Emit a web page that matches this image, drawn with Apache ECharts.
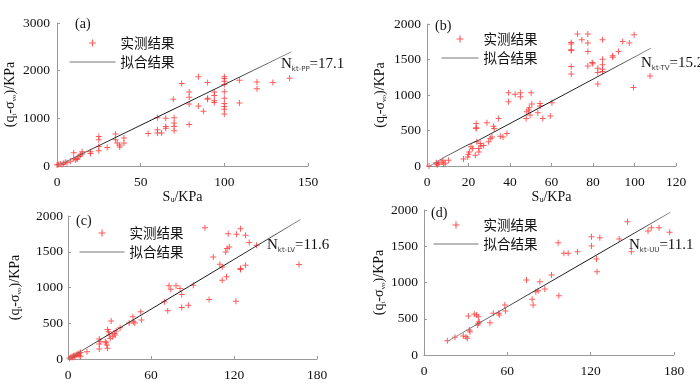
<!DOCTYPE html>
<html>
<head>
<meta charset="utf-8">
<script src="https://cdn.jsdelivr.net/npm/echarts@6/dist/echarts.min.js"></script>
<style>html,body{margin:0;padding:0;background:#fff}#c{width:700px;height:390px}</style>
</head>
<body>
<div id="c"></div>
<script>
// ---- data ----
const aPts = [[0,20],[1,30],[2,40],[3,30],[4,60],[5,80],[6,70],[8,100],[10,150],[10,280],[11,130],[12,160],[12,140],[13,200],[14,230],[15,250],[15,300],
  [20,300],[20,260],[25,620],[25,550],[25,410],[25,320],[30,390],[35,670],[35,550],[36,480],[37.5,440],[37.5,400],[40,590],[40,480],
  [54.5,680],[60,1010],[60,760],[60,690],[62.5,690],[65,1000],[65,830],[65,790],[69.5,1400],[70,1010],[70,900],[70,830],[70,740],
  [74.5,1730],[79,1550],[79,1440],[79,1300],[79,870],[84.5,1870],[84.5,1260],[87.5,1150],[90,1750],[90,1420],[90,1400],
  [94,1550],[94,1480],[94,1370],[94,1330],[100,1870],[100,1835],[100,1780],[100,1710],[100,1560],[100,1420],[100,1310],[100,1250],[100,1190],[100,1090],
  [109,1800],[109,1320],[119.5,1760],[119.5,1620],[129,1750],[139,1840]];
const aFit = [[0,0],[140,2394]];

const bPts = [[1,0],[4.5,33],[4.5,47],[5,19],[5.6,42],[7.2,57],[7.7,80],[8,24],[8.8,42],[10.4,80],
  [17.6,99],[19.6,127],[20,165],[20.4,198],[21.2,270],[22,245],[23.3,150],[23.7,600],[23.7,540],[23.7,528],[24,340],[25,245],[25,198],
  [25.7,316],[26,283],[27.3,288],[28.9,610],[29.7,340],[30.5,387],[31.3,410],[32,560],[32.4,528],[34.5,670],[35.3,420],[36.6,410],[38.5,458],
  [39.3,1033],[39.3,905],[42.5,1010],[45,1033],[45,976],[47.8,670],[48.1,764],[49,788],[49.3,820],[49.7,717],[50.2,1033],[50.5,873],
  [53.4,750],[54.5,844],[54.5,882],[55.8,670],[59.4,703],[60.2,890],
  [69.5,1740],[69.5,1717],[69.5,1637],[69.5,1627],[69.5,1400],[69.5,1297],[72.5,1858],[74.6,1778],[77.5,1858],[77.5,1731],[77.5,1613],[77.5,1410],
  [79.6,1458],[79.9,1440],[82.3,1377],[82.3,1316],[82.3,1156],[84.6,1778],[84.6,1505],[84.6,1425],[84.6,1363],[84.6,1330],
  [89.5,1552],[89.5,1533],[92.3,1613],[94.3,1755],[97.5,1731],[99.8,1849],[99.5,1104],[107.5,1269]];
const bFit = [[1.3,0],[8,118],[19.3,292],[24.9,363],[108,1660]];

const cPts = [[1,10],[2,25],[3,35],[4,45],[5,50],[6,60],[7,70],[8,80],[9,90],[8,50],[3,20],[5,30],[9,40],[13.7,102],
  [22.6,279],[22.6,209],[22.6,140],[23.3,242],[27,242],[27.6,228],[28.1,195],[28.6,149],[28.6,414],[29.3,381],[29.8,335],[30.5,288],[31.2,530],
  [32.4,312],[33.4,358],[34.1,335],[34.8,391],[37.7,437],[44.2,502],[46.9,591],[47.3,521],[48.3,502],[52.6,660],[53.1,544],
  [69.7,800],[72.1,674],[73,1023],[74.3,977],[78.1,1023],[81,986],[82.2,902],[82.2,721],[87,753],[90.6,1033],[99,1837],[102,833],[105,1428],
  [109.8,1326],[111.5,1288],[111.5,1102],[114,1498],[114.6,1149],[115,1544],[115.8,1753],[116.6,1567],[121.4,809],[121.8,1744],
  [124.7,1823],[124.7,1265],[124.7,1251],[128.3,1730],[128.3,1312],[131,1628],[136.3,1591],[167,1321]];
const cFit = [[0,0],[168,1950]];

const dPts = [[16.8,198],[22.3,244],[28.3,262],[30.2,253],[31.2,230],[31.9,538],[32.6,345],[33.1,322],[36.2,566],[37.9,552],[39.1,529],
  [38.6,414],[39.1,437],[39.8,460],[47.5,446],[49.9,575],[53.9,575],[54.2,552],[58.2,690],[58.7,607],[73.8,1034],[77.9,768],[78.6,690],
  [80.5,874],[82.2,887],[83.4,1011],[87,910],[91.8,1103],[96.6,1549],[97.1,818],[100.7,1402],[103.8,1402],[110.5,1425],
  [120.6,1632],[120.6,1503],[124.2,1324],[124.6,1149],[126.6,1618],[140.5,1600],[146.5,1839],[149.3,1425],[161.3,1710],[163.7,1756],[169.2,1756],[176.9,1692]];
const dFit = [[16.5,183],[177.5,1970]];

const panelLabels = ['(a)','(b)','(c)','(d)'];
const nLabels = [['kt-PP','17.1'],['kt-TV','15.2'],['kt-LV','11.6'],['kt-UU','11.1']];
const xTicks = [{min:0,max:150,interval:50},{min:0,max:120,interval:20},{min:0,max:180,interval:60},{min:0,max:180,interval:60}];
const yTicks = [{min:0,max:3000,interval:1000},{min:0,max:2000,interval:500},{min:0,max:2000,interval:500},{min:0,max:2000,interval:500}];
const legendNames = ['实测结果','拟合结果'];

// ---- layout ----
const serif = '"Liberation Serif","DejaVu Serif",serif';
const cjk = '"Noto Sans CJK SC","Noto Sans CJK JP",sans-serif';
const grids = [
  {left:57, top:23, width:251, height:143},
  {left:427, top:24, width:249, height:142},
  {left:68, top:216, width:249, height:143},
  {left:424, top:210, width:250, height:145}
];
const yGap = [39,39,45,37];
const yLabMargin = [7,6,5,6];
const xNameShow = [true,true,false,false];
const xNameGap = [19,21,20,20];
const legPos = [
  {left:69, top:36, itemWidth:46},
  {left:441, top:32, itemWidth:37},
  {left:79, top:226, itemWidth:45},
  {left:433, top:218, itemWidth:45}
];
const gradStops = [[0.18,0.74],[0.2,0.78],[0.15,0.83],[0.4,0.83]];
const pLabPos = [[75,17],[435,19],[76,214],[431,206]];
const nPos = [[281,57],[641,56],[267,238],[629,238]];

const cross = 'path://M2.5,0h1v2.5h2.5v1h-2.5v2.5h-1v-2.5h-2.5v-1h2.5z';
const ptColor = '#ff3535';
const axisColor = '#9a9a9a';
const chart = echarts.init(document.getElementById('c'));

const xAxis = [], yAxis = [], series = [], legend = [], graphic = [];
const pts = [aPts,bPts,cPts,dPts], fits = [aFit,bFit,cFit,dFit];
for (let i = 0; i < 4; i++) {
  xAxis.push({
    gridIndex:i, type:'value', min:xTicks[i].min, max:xTicks[i].max, interval:xTicks[i].interval,
    name: xNameShow[i] ? '{a|S}{s|u}{a|/KPa}' : '', nameLocation:'middle', nameGap:xNameGap[i],
    nameTextStyle:{rich:{a:{fontFamily:serif,fontSize:14,color:'#111',lineHeight:15},s:{fontFamily:serif,fontSize:8,color:'#111',lineHeight:8,verticalAlign:'bottom'}}},
    splitLine:{show:false},
    axisLine:{onZero:false,lineStyle:{color:axisColor,width:1}},
    axisTick:{inside:true,length:3,lineStyle:{color:axisColor}},
    axisLabel:{fontFamily:serif,fontSize:13.5,color:'#111',margin:9,formatter:v=>String(v)}
  });
  yAxis.push({
    gridIndex:i, type:'value', min:yTicks[i].min, max:yTicks[i].max, interval:yTicks[i].interval,
    name:'{a|(q}{s|t}{a|-σ}{s|vo}{a|)/KPa}', nameLocation:'middle', nameGap:yGap[i], nameRotate:90,
    nameTextStyle:{rich:{a:{fontFamily:serif,fontSize:14,color:'#111',lineHeight:15},s:{fontFamily:serif,fontSize:7,color:'#111',lineHeight:7,verticalAlign:'bottom'}}},
    splitLine:{show:false},
    axisLine:{show:true,lineStyle:{color:axisColor,width:1}},
    axisTick:{show:true,inside:true,length:3,lineStyle:{color:axisColor}},
    axisLabel:{fontFamily:serif,fontSize:13.5,color:'#111',margin:yLabMargin[i],formatter:v=>String(v)}
  });
  series.push({
    type:'scatter', name:legendNames[0], xAxisIndex:i, yAxisIndex:i, data:pts[i],
    symbol:cross, symbolSize:6, itemStyle:{color:ptColor}, silent:true, z:2
  });
  const g = gradStops[i];
  series.push({
    type:'line', name:legendNames[1], xAxisIndex:i, yAxisIndex:i, data:fits[i], symbol:'none', silent:true, z:3,
    itemStyle:{color:'rgba(0,0,0,0)'},
    lineStyle:{width:1, color:new echarts.graphic.LinearGradient(0,0,1,0,[
      {offset:0,color:'#9a9a9a'},{offset:g[0],color:'#333'},{offset:(g[0]+g[1])/2,color:'#111'},{offset:g[1],color:'#333'},{offset:1,color:'#9a9a9a'}])}
  });
  legend.push({
    orient:'vertical', left:legPos[i].left, top:legPos[i].top, padding:0, itemGap:5,
    itemWidth:legPos[i].itemWidth, itemHeight:7, selectedMode:false,
    data:[{name:legendNames[0], icon:cross, itemStyle:{color:ptColor}},
          {name:legendNames[1], itemStyle:{color:'rgba(0,0,0,0)',opacity:0,borderWidth:0}, lineStyle:{color:'#777',width:1}}],
    textStyle:{fontFamily:cjk,fontSize:13.5,color:'#111',lineHeight:14}
  });
  graphic.push({type:'text', left:pLabPos[i][0], top:pLabPos[i][1], silent:true,
    style:{text:panelLabels[i], font:'14px '+serif, fill:'#111'}});
  graphic.push({type:'text', left:nPos[i][0], top:nPos[i][1], silent:true,
    style:{text:'{n|N}{s|'+nLabels[i][0]+'}{n|='+nLabels[i][1]+'}',
      rich:{n:{fontFamily:serif,fontSize:15,fill:'#111',lineHeight:17},s:{fontFamily:'"DejaVu Sans",sans-serif',fontSize:7,fill:'#333',lineHeight:7,verticalAlign:'bottom'}}}});
}

chart.setOption({
  animation:false,
  backgroundColor:'#fff',
  grid:grids,
  xAxis, yAxis, series, legend, graphic
});
</script>
</body>
</html>
